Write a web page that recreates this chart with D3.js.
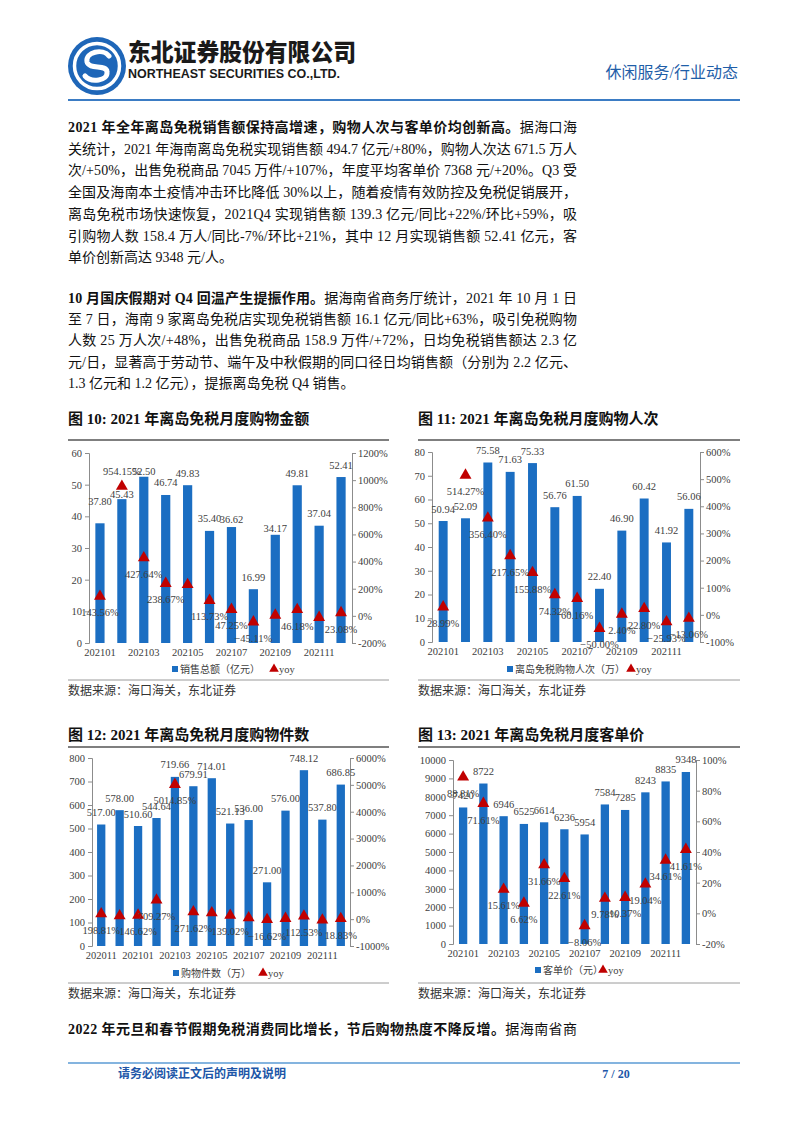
<!DOCTYPE html>
<html><head><meta charset="utf-8">
<script src="https://cdn.jsdelivr.net/npm/d3@7"></script>
<style>
body{margin:0;background:#fff;}
svg{display:block;}
</style></head><body>
<svg id="page" width="802" height="1133"></svg>
<script>
// ---------------- DATA ----------------
const months2021 = ["202101","202102","202103","202104","202105","202106","202107","202108","202109","202110","202111","202112"];
const monthsItems = ["202011","202012"].concat(months2021);

const salesAmount = [37.80,45.43,52.50,46.74,49.83,35.40,36.62,16.99,34.17,49.81,37.04,52.41];
const salesYoy    = [143.56,954.15,427.64,238.67,230,113.73,47.25,-45.11,5,46.18,-12,23.08];

const visitors    = [50.94,52.09,75.58,71.63,75.33,56.76,61.50,22.40,46.90,60.42,41.92,56.06];
const visitorsYoy = [28.99,514.27,356.40,217.65,155.88,74.32,60.16,-50.00,2.40,22.80,-25.93,-13.06];

const items    = [517.00,578.00,510.60,544.64,719.66,679.91,714.01,521.13,536.00,271.00,576.00,748.12,537.80,686.85];
const itemsYoy = [198.81,120,146.62,709.27,5014.85,271.62,235,139.02,50,-16.62,25,112.53,-37,18.83];

const avgSpend    = [7420,8722,6946,6525,6614,6236,5954,7584,7285,8243,8835,9348];
const avgSpendYoy = [88.81,71.61,15.61,6.62,31.66,22.61,-8.06,9.78,10.37,19.04,34.61,41.61];

const leftTicks1 = [0,10,20,30,40,50,60];
const rightTicks1 = [-200,0,200,400,600,800,1000,1200];
const leftTicks2 = [0,10,20,30,40,50,60,70,80];
const rightTicks2 = [-100,0,100,200,300,400,500,600];
const leftTicks3 = [0,100,200,300,400,500,600,700,800];
const rightTicks3 = [-1000,0,1000,2000,3000,4000,5000,6000];
const leftTicks4 = [0,1000,2000,3000,4000,5000,6000,7000,8000,9000,10000];
const rightTicks4 = [-20,0,20,40,60,80,100];

// ---------------- STYLE ----------------
const BLUE = "#1b6ec2", RED = "#c00000", AX = "#8c8c8c", LBL = "#404040";
const SERIF = "'Liberation Serif','Times New Roman','Noto Sans CJK SC',serif";
const CJK = "'Liberation Serif','Noto Sans CJK SC',sans-serif";

const svg = d3.select("#page");

// ---------------- HEADER ----------------
const logo = svg.append("g").attr("transform","translate(97,66)");
logo.append("circle").attr("r",29).attr("fill","#1e66b8");
logo.append("circle").attr("r",22.5).attr("fill","none").attr("stroke","#fff").attr("stroke-width",3.5);
logo.append("path").attr("d","M12,-10 C6,-18 -12,-14 -10,-4 C-8,4 10,-2 10,6 C11,15 -6,17 -12,10")
  .attr("fill","none").attr("stroke","#fff").attr("stroke-width",5).attr("stroke-linecap","round");
svg.append("text").attr("x",128).attr("y",61).attr("font-family","'Noto Sans CJK SC',sans-serif")
  .attr("font-weight",900).attr("font-size",24).attr("fill","#1a1a1a")
  .attr("textLength",228).attr("lengthAdjust","spacingAndGlyphs").text("东北证券股份有限公司");
svg.append("text").attr("x",128).attr("y",78).attr("font-family","'Liberation Sans',Arial,sans-serif")
  .attr("font-weight",700).attr("font-size",12.5).attr("fill","#1a1a1a")
  .attr("textLength",212).attr("lengthAdjust","spacingAndGlyphs").text("NORTHEAST SECURITIES CO.,LTD.");
svg.append("text").attr("x",738).attr("y",78).attr("text-anchor","end").attr("font-family",CJK)
  .attr("font-size",16).attr("fill","#1f5ea8").text("休闲服务/行业动态");
svg.append("line").attr("x1",68).attr("x2",740).attr("y1",100).attr("y2",100)
  .attr("stroke","#3b7cc4").attr("stroke-width",1.8);

// ---------------- PROSE ----------------
const proseX = 68, proseW = 509;
function proseLine(y, parts, justify){
  const t = svg.append("text").attr("x",proseX).attr("y",y).attr("font-family",CJK)
    .attr("font-size",14).attr("fill","#111");
  parts.forEach(p => {
    t.append("tspan").attr("font-weight", p[1] ? 700 : 400).text(p[0]);
  });
  if (justify) t.attr("textLength",proseW).attr("lengthAdjust","spacing");
}
const p1 = [
  [["2021 年全年离岛免税销售额保持高增速，购物人次与客单价均创新高。",1],["据海口海",0]],
  [["关统计，2021 年海南离岛免税实现销售额 494.7 亿元/+80%，购物人次达 671.5 万人",0]],
  [["次/+50%，出售免税商品 7045 万件/+107%，年度平均客单价 7368 元/+20%。Q3 受",0]],
  [["全国及海南本土疫情冲击环比降低 30%以上，随着疫情有效防控及免税促销展开，",0]],
  [["离岛免税市场快速恢复，2021Q4 实现销售额 139.3 亿元/同比+22%/环比+59%，吸",0]],
  [["引购物人数 158.4 万人/同比-7%/环比+21%，其中 12 月实现销售额 52.41 亿元，客",0]],
  [["单价创新高达 9348 元/人。",0]]
];
p1.forEach((l,i)=>proseLine(132 + i*21.7, l, i < p1.length-1));
const p2 = [
  [["10 月国庆假期对 Q4 回温产生提振作用。",1],["据海南省商务厅统计，2021 年 10 月 1 日",0]],
  [["至 7 日，海南 9 家离岛免税店实现免税销售额 16.1 亿元/同比+63%，吸引免税购物",0]],
  [["人数 25 万人次/+48%，出售免税商品 158.9 万件/+72%，日均免税销售额达 2.3 亿",0]],
  [["元/日，显著高于劳动节、端午及中秋假期的同口径日均销售额（分别为 2.2 亿元、",0]],
  [["1.3 亿元和 1.2 亿元），提振离岛免税 Q4 销售。",0]]
];
p2.forEach((l,i)=>proseLine(303 + i*21.2, l, i < p2.length-1));
proseLine(1034, [["2022 年元旦和春节假期免税消费同比增长，节后购物热度不降反增。",1],["据海南省商",0]], true);

// ---------------- FOOTER ----------------
svg.append("line").attr("x1",68).attr("x2",740).attr("y1",1063).attr("y2",1063)
  .attr("stroke","#5b9bd5").attr("stroke-width",1.5);
svg.append("text").attr("x",118).attr("y",1078).attr("font-family",CJK).attr("font-weight",700)
  .attr("font-size",12).attr("fill","#2056a8").text("请务必阅读正文后的声明及说明");
svg.append("text").attr("x",616).attr("y",1078).attr("text-anchor","middle").attr("font-family",SERIF).attr("font-weight",700)
  .attr("font-size",12).attr("fill","#2056a8").text("7 / 20");

// ---------------- CHARTS ----------------
function chartFrame(cfg){
  svg.append("text").attr("x",cfg.frameX).attr("y",cfg.titleY).attr("font-family",CJK).attr("font-weight",700)
    .attr("font-size",15).attr("fill","#111").text(cfg.title);
  svg.append("line").attr("x1",cfg.frameX).attr("x2",cfg.frameX+cfg.frameW).attr("y1",cfg.frameTop).attr("y2",cfg.frameTop)
    .attr("stroke","#7f7f7f").attr("stroke-width",2);
  svg.append("line").attr("x1",cfg.frameX).attr("x2",cfg.frameX+cfg.frameW).attr("y1",cfg.frameBottom).attr("y2",cfg.frameBottom)
    .attr("stroke","#9a9a9a").attr("stroke-width",1);
  svg.append("text").attr("x",cfg.frameX).attr("y",cfg.frameBottom+15).attr("font-family",CJK)
    .attr("font-size",12).attr("fill","#333").text("数据来源：海口海关，东北证券");
}

function drawChart(cfg){
  chartFrame(cfg);
  const g = svg.append("g");
  const x = d3.scaleBand().domain(cfg.cats).range([cfg.left,cfg.right])
    .paddingInner(cfg.pad).paddingOuter(cfg.pad/2);
  const yL = d3.scaleLinear().domain(d3.extent(cfg.leftTicks)).range([cfg.bottom,cfg.top]);
  const yR = d3.scaleLinear().domain(d3.extent(cfg.rightTicks)).range([cfg.bottom,cfg.top]);
  const cx = i => x(cfg.cats[i]) + x.bandwidth()/2;

  // bars
  g.selectAll("rect.bar").data(cfg.values).join("rect")
    .attr("x",(d,i)=>x(cfg.cats[i])).attr("width",x.bandwidth())
    .attr("y",d=>yL(d)).attr("height",d=>yL(0)-yL(d)).attr("fill",BLUE);

  // axes
  const axL = g.append("g").attr("transform",`translate(${cfg.left},0)`)
    .call(d3.axisLeft(yL).tickValues(cfg.leftTicks).tickSize(4).tickPadding(3).tickFormat(d3.format("d")));
  const axR = g.append("g").attr("transform",`translate(${cfg.right},0)`)
    .call(d3.axisRight(yR).tickValues(cfg.rightTicks).tickSize(4).tickPadding(2).tickFormat(d=>d+"%"));
  const axB = g.append("g").attr("transform",`translate(0,${cfg.bottom})`)
    .call(d3.axisBottom(x).tickValues(cfg.cats.filter((d,i)=>i%2===0)).tickSize(0).tickPadding(6));
  axB.select(".domain").remove();
  [axL,axR,axB].forEach(a=>{
    a.selectAll(".domain").attr("stroke",AX);
    a.selectAll(".tick line").attr("stroke",AX);
    a.selectAll("text").attr("font-family",SERIF).attr("font-size",10.5).attr("fill",LBL);
  });

  // value labels
  const shift = cfg.valShift || {};
  g.selectAll("text.val").data(cfg.values).join("text")
    .attr("x",(d,i)=>cx(i)).attr("y",(d,i)=>yL(d)-8.5+(shift[i]||0))
    .attr("text-anchor","middle").attr("font-family",SERIF).attr("font-size",10.5).attr("fill",LBL)
    .text(d=>cfg.valFmt(d));

  // yoy triangles
  const tri = d3.symbol().type(d3.symbolTriangle).size(62);
  g.selectAll("path.tri").data(cfg.yoy).join("path")
    .attr("transform",(d,i)=>`translate(${cx(i)},${yR(d)})`)
    .attr("d",tri).attr("fill",RED);

  // yoy labels
  g.selectAll("text.yoy").data(cfg.yoy.map((v,i)=>({v,i})).filter(d=>!cfg.hidden.includes(d.i))).join("text")
    .attr("x",d=>cx(d.i))
    .attr("y",d=>cfg.above.includes(d.i) ? yR(d.v)-11 : yR(d.v)+20)
    .attr("text-anchor","middle").attr("font-family",SERIF).attr("font-size",10.5).attr("fill",LBL)
    .text(d=>d3.format(".2f")(d.v)+"%");

  // legend
  const lg = g.append("g");
  lg.append("rect").attr("x",cfg.legX).attr("y",cfg.legY-3).attr("width",6).attr("height",6).attr("fill",BLUE);
  lg.append("text").attr("x",cfg.legX+8).attr("y",cfg.legY+3.5).attr("font-family",CJK).attr("font-size",10)
    .attr("fill",LBL).text(cfg.legend);
  lg.append("path").attr("transform",`translate(${cfg.legTriX},${cfg.legY})`).attr("d",d3.symbol().type(d3.symbolTriangle).size(40)).attr("fill",RED);
  lg.append("text").attr("x",cfg.legTriX+5).attr("y",cfg.legY+3.5).attr("font-family",SERIF).attr("font-size",10.5)
    .attr("fill",LBL).text("yoy");
}

const fmt2 = d3.format(".2f"), fmt0 = d3.format("d");

drawChart({
  title:"图 10:  2021 年离岛免税月度购物金额", frameX:68, frameW:321, titleY:424, frameTop:440, frameBottom:680,
  cats:months2021, values:salesAmount, yoy:salesYoy, leftTicks:leftTicks1, rightTicks:rightTicks1,
  left:89, right:352, top:453, bottom:643, pad:0.58, valFmt:fmt2,
  hidden:[4,8,10], above:[1], valShift:{0:-10,1:7,2:7,6:4,8:6},
  legend:"销售总额（亿元）", legX:172, legY:669, legTriX:274
});
drawChart({
  title:"图 11:  2021 年离岛免税月度购物人次", frameX:418, frameW:322, titleY:424, frameTop:440, frameBottom:680,
  cats:months2021, values:visitors, yoy:visitorsYoy, leftTicks:leftTicks2, rightTicks:rightTicks2,
  left:432, right:700, top:452, bottom:642, pad:0.6, valFmt:fmt2,
  hidden:[], above:[],
  legend:"离岛免税购物人次（万）", legX:507, legY:669, legTriX:631
});
drawChart({
  title:"图 12:  2021 年离岛免税月度购物件数", frameX:68, frameW:321, titleY:740, frameTop:747, frameBottom:983,
  cats:monthsItems, values:items, yoy:itemsYoy, leftTicks:leftTicks3, rightTicks:rightTicks3,
  left:92, right:350, top:758, bottom:946, pad:0.55, valFmt:fmt2,
  hidden:[1,6,8,10,12], above:[],
  legend:"购物件数（万）", legX:173, legY:973, legTriX:263
});
drawChart({
  title:"图 13:  2021 年离岛免税月度客单价", frameX:418, frameW:322, titleY:740, frameTop:747, frameBottom:983,
  cats:months2021, values:avgSpend, yoy:avgSpendYoy, leftTicks:leftTicks4, rightTicks:rightTicks4,
  left:453, right:696, top:760, bottom:944, pad:0.59, valFmt:fmt0,
  hidden:[], above:[],
  legend:"客单价（元）", legX:535, legY:970, legTriX:603
});
</script>
</body></html>
